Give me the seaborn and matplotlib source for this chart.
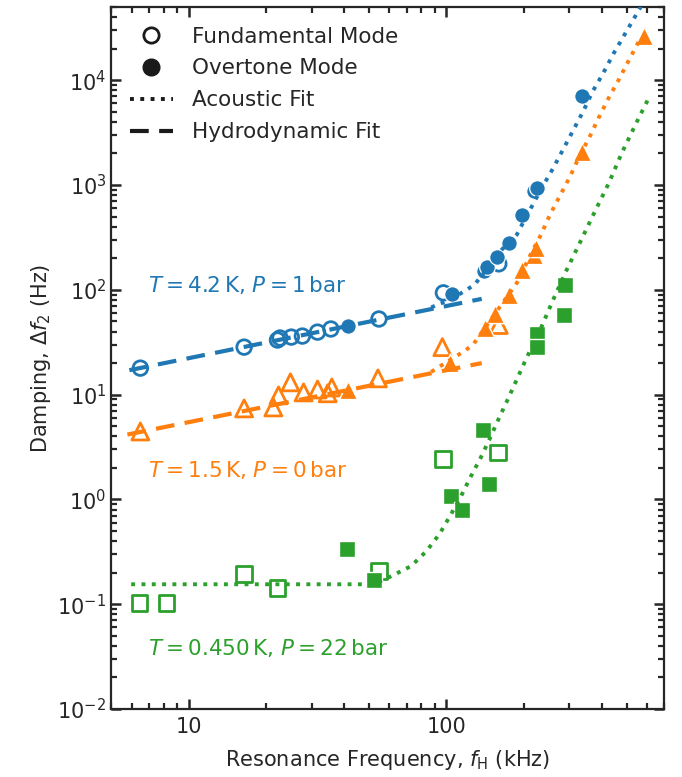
import matplotlib
matplotlib.use("Agg")
import matplotlib.pyplot as plt
import matplotlib.ticker as mticker
import seaborn as sns
from matplotlib.lines import Line2D

# --- data (f in kHz, damping in Hz) ---

# T = 4.2 K, P = 1 bar
blue_fund_f = [6.49, 16.4, 22.1, 22.6, 25.0, 27.6, 31.6, 35.6, 54.7, 97.3, 159.6]
blue_fund_d = [17.9, 28.4, 33.2, 34.7, 35.4, 36.2, 39.5, 42.3, 52.7, 93.6, 177]
blue_over_f = [41.4, 104.8, 139.7, 143.3, 156.7, 174.6, 196.5, 218.8, 224.7, 336.5]
blue_over_d = [45.2, 91.5, 152, 166, 207, 282, 513, 871, 929, 7080]
blue_hydro_f = [5.88, 137]
blue_hydro_d = [17.1, 82]
blue_acou_f = [87.3, 104.8, 119.7, 128.5, 150, 164, 187.6, 196.5, 235, 259.3,
               283.8, 310.6, 339.8, 368.4, 406.4, 444.6, 491, 542, 568]
blue_acou_d = [68, 82, 100, 112, 181, 242, 337, 420, 951, 1445,
               2200, 3345, 5090, 7750, 11780, 17920, 27250, 41400, 50600]

# T = 1.5 K, P = 0 bar
orange_fund_f = [6.49, 16.4, 21.3, 22.3, 24.8, 27.9, 31.6, 34.6, 35.9, 54.2, 96.4, 159.6]
orange_fund_d = [4.45, 7.39, 7.55, 9.84, 13.1, 10.5, 11.2, 10.3, 11.7, 14.3, 28.4, 46.2]
orange_over_f = [41.4, 102.8, 140.6, 154, 174.6, 196.5, 219, 222.6, 336.5, 583]
orange_over_d = [11.0, 20.0, 43.2, 58.9, 89.6, 155.5, 217, 253, 2057, 26650]
orange_hydro_f = [5.78, 137]
orange_hydro_d = [4.16, 20.0]
orange_acou_f = [87.3, 107.4, 117.5, 127.4, 187.6, 212.8, 232.8, 252.4, 276,
                 302, 328, 359, 389, 426, 466, 509, 557]
orange_acou_d = [16.5, 22.8, 26.0, 30.4, 116.6, 221, 337, 524, 796,
                 1211, 1884, 2865, 4355, 6780, 10090, 15350, 23330]

# T = 0.450 K, P = 22 bar
green_fund_f = [6.44, 8.2, 16.4, 22.1, 54.7, 97.3, 158]
green_fund_d = [0.102, 0.102, 0.194, 0.142, 0.206, 2.45, 2.80]
green_over_f = [41.0, 52.4, 103.8, 114.6, 138.3, 145.9, 224.7, 224.7, 286, 289]
green_over_d = [0.336, 0.169, 1.08, 0.79, 4.55, 1.41, 37.9, 28.4, 57.5, 112]
green_acou_f = [5.98, 47.9, 54.2, 61.0, 72.9, 83.6, 94.0, 103.8, 113.6, 124.2,
                135.9, 147.3, 159.7, 173, 187.6, 203.5, 230.8, 259.3, 291.6,
                331, 375, 426, 478.6, 542.5, 615]
green_acou_d = [0.155, 0.155, 0.162, 0.185, 0.231, 0.321, 0.468, 0.711, 1.06, 1.65,
                2.51, 3.81, 5.93, 9.02, 14.0, 21.8, 41.3, 80.2, 152,
                289, 547, 1038, 2014, 3820, 7080]

labels = [r"$T = 4.2\,\mathrm{K}$, $P = 1\,\mathrm{bar}$",
          r"$T = 1.5\,\mathrm{K}$, $P = 0\,\mathrm{bar}$",
          r"$T = 0.450\,\mathrm{K}$, $P = 22\,\mathrm{bar}$"]

x_major = [10, 100]
y_major = [1e-2, 1e-1, 1e0, 1e1, 1e2, 1e3, 1e4]

# --- style ---
sns.set_style("ticks")
plt.rcParams.update({
    "font.family": ["DejaVu Sans"],
    "mathtext.fontset": "dejavusans",
    "axes.linewidth": 1.6, "axes.edgecolor": "#262626",
    "text.color": "#262626",
})

blue, orange, green = "#1f77b4", "#ff7f0e", "#2ca02c"
dash = (0, (4.5, 2.5))

fig = plt.figure(figsize=(6.82, 7.77), dpi=100)
ax = fig.add_axes([0.163, 0.0875, 0.811, 0.9035])

series = [
    (blue, "o", 110, blue_fund_f, blue_fund_d, blue_over_f, blue_over_d,
     blue_hydro_f, blue_hydro_d, blue_acou_f, blue_acou_d),
    (orange, "^", 150, orange_fund_f, orange_fund_d, orange_over_f, orange_over_d,
     orange_hydro_f, orange_hydro_d, orange_acou_f, orange_acou_d),
    (green, "s", 130, green_fund_f, green_fund_d, green_over_f, green_over_d,
     None, None, green_acou_f, green_acou_d),
]

for c, m, s, ff, fd, of, od, hf, hd, af, ad in series:
    sns.scatterplot(x=ff, y=fd, marker=m, s=s, facecolors="none",
                    edgecolor=c, linewidth=2, ax=ax, zorder=3)
    sns.scatterplot(x=of, y=od, marker=m, s=s * 1.15, color=c, ax=ax, zorder=3)
    if hf is not None:
        sns.lineplot(x=hf, y=hd, color=c, lw=3, linestyle=dash, ax=ax,
                     estimator=None, sort=False, zorder=4)
    sns.lineplot(x=af, y=ad, color=c, lw=2.8, linestyle=":", ax=ax,
                 estimator=None, sort=False, zorder=4)

ax.set_xscale("log")
ax.set_yscale("log")

for txt, c, yy in zip(labels, [blue, orange, green], [0.604, 0.340, 0.087]):
    ax.text(0.067, yy, txt, color=c, fontsize=15.5, transform=ax.transAxes,
            va="center", ha="left")

ax.set_xlim(5, 700)
ax.set_ylim(1e-2, 5e4)

# log ticks: majors at decades, minors at 2..9 within each decade
x_minor = [m * 10.0 ** e for e in range(0, 3) for m in range(2, 10)]
y_minor = [m * 10.0 ** e for e in range(-2, 5) for m in range(2, 10)]
ax.xaxis.set_major_locator(mticker.FixedLocator(x_major))
ax.xaxis.set_major_formatter(mticker.FuncFormatter(lambda v, p: f"{v:g}"))
ax.xaxis.set_minor_locator(mticker.FixedLocator(x_minor))
ax.xaxis.set_minor_formatter(mticker.NullFormatter())
ax.yaxis.set_major_locator(mticker.FixedLocator(y_major))
ax.yaxis.set_major_formatter(mticker.LogFormatterSciNotation())
ax.yaxis.set_minor_locator(mticker.FixedLocator(y_minor))
ax.yaxis.set_minor_formatter(mticker.NullFormatter())

ax.set_xlabel(r"Resonance Frequency, $f_\mathrm{H}$ (kHz)", fontsize=15, labelpad=8)
ax.set_ylabel(r"Damping, $\Delta f_2$ (Hz)", fontsize=15, labelpad=3)
ax.tick_params(which="major", direction="in", length=7, width=1.8,
               color="#262626", labelsize=15, top=True, right=True)
ax.tick_params(which="minor", direction="in", length=4.5, width=1.6,
               color="#262626", top=True, right=True)
ax.tick_params(axis="x", which="major", pad=6)

k = "#1a1a1a"
handles = [
    Line2D([], [], ls="none", marker="o", ms=11, mfc="none", mec=k, mew=2),
    Line2D([], [], ls="none", marker="o", ms=12, mfc=k, mec=k),
    Line2D([], [], color=k, lw=2.8, ls=":"),
    Line2D([], [], color=k, lw=3, ls=dash),
]
ax.legend(handles, ["Fundamental Mode", "Overtone Mode", "Acoustic Fit", "Hydrodynamic Fit"],
          loc="upper left", bbox_to_anchor=(0.034, 0.972), frameon=False,
          fontsize=15.5, borderpad=0, borderaxespad=0, labelspacing=0.55,
          handletextpad=0.9)

fig.savefig("out.png", dpi=100)
